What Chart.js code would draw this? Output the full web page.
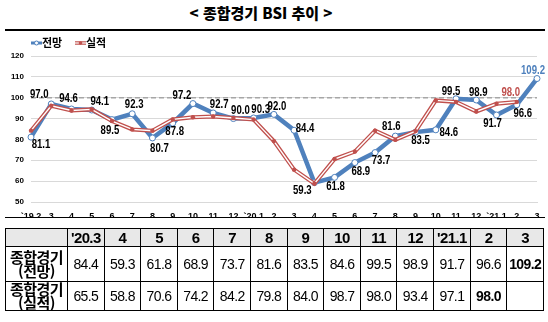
<!DOCTYPE html>
<html lang="ko">
<head>
<meta charset="utf-8">
<script src="https://cdn.jsdelivr.net/npm/chart.js@4.4.0/dist/chart.umd.min.js"></script>
<style>
    body { margin: 0; width: 548px; height: 322px; background: #fff; position: relative; overflow: hidden; font-family: 'Noto Sans CJK KR', sans-serif; }
    #title { position: absolute; top: 3px; left: 0; width: 522px; text-align: center; font-weight: 900; font-size: 15px; line-height: 20px; }
    .rule { position: absolute; left: 5px; width: 540px; height: 0; border-top: 2px solid #000; }
    #chartBox { position: absolute; left: 0; top: 32px; width: 548px; height: 186px; }
    #bsiTable { position: absolute; left: 5px; top: 228px; border-collapse: collapse; table-layout: fixed; width: 539px; }
    #bsiTable td { border: 1px solid #000; text-align: center; padding: 0; font-family: 'Liberation Sans', sans-serif; font-size: 14px; letter-spacing: -0.6px; }
    #bsiTable tr.head td { background: #e8e8e8; font-weight: bold; height: 16px; font-size: 15px; }
    #bsiTable td.rowHead { font-family: 'Noto Sans CJK KR', sans-serif; font-weight: bold; font-size: 15px; line-height: 14px; letter-spacing: -0.5px; }
    #bsiTable td.strong { font-weight: bold; }
</style>
</head>
<body>
<div id="title">&lt; 종합경기 BSI 추이 &gt;</div>
<div class="rule" style="top:29px"></div>
<div id="chartBox"><canvas id="bsiChart" width="548" height="186"></canvas></div>
<div class="rule" style="top:217px; border-top-width:1px"></div>
<table id="bsiTable"></table>
<script>
// Months on the x axis
const months = ['`19.2', '3', '4', '5', '6', '7', '8', '9', '10', '11', '12',
    '`20.1', '2', '3', '4', '5', '6', '7', '8', '9', '10', '11', '12',
    '`21.1', '2', '3'];

// 종합경기 전망
const forecast = [81.1, 97.0, 94.6, 94.1, 89.5, 92.3, 80.7, 87.8, 97.2, 92.7, 90.0,
    90.3, 92.0, 84.4, 59.3, 61.8, 68.9, 73.7, 81.6, 83.5, 84.6, 99.5, 98.9,
    91.7, 96.6, 109.2];

// 종합경기 실적 (no value yet for '21.3)
const actual = [84.2, 96.1, 93.9, 94.4, 88.8, 84.8, 84.2, 89.6, 90.6, 91.0, 90.3,
    89.5, 79.2, 65.5, 58.8, 70.6, 74.2, 84.2, 79.8, 84.0, 98.7, 98.0, 93.4,
    97.1, 98.0, null];

// Table columns ('20.3 ~ '21.3)
const tableCols = ["'20.3", '4', '5', '6', '7', '8', '9', '10', '11', '12', "'21.1", '2', '3'];
const yTicks = [50, 60, 70, 80, 90, 100, 110, 120];
const baseline = 100;

// where each forecast label sits relative to its point (px)
const forecastLabelOffsets = [
    [10, 8], [-12, -9], [-3, -10], [8, -8], [-2, 11], [2, -9], [7, 11], [2, 9],
    [-11, -8], [6, -8], [7, -8], [7, -8], [3, -8], [11, -2], [-12, 8], [1, 9],
    [6, 9], [6, 8], [-4, -9], [5, 9], [13, 3], [-5, -7], [2, -7], [-4, 9],
    [6, 9], [-4, -8]
];
const actualLabelOffset = [-6, -9];

const colors = {
    blue: '#4f81bd',
    red: '#c0504d',
    grid: '#d9d9d9',
    dash: '#a6a6a6'
};

// Dashed reference line at 100
const baselinePlugin = {
    id: 'baseline',
    beforeDatasetsDraw(chart) {
        const { ctx, chartArea, scales } = chart;
        const y = scales.y.getPixelForValue(baseline);
        ctx.save();
        ctx.strokeStyle = colors.dash;
        ctx.lineWidth = 1.5;
        ctx.setLineDash([5, 3]);
        ctx.beginPath();
        ctx.moveTo(chartArea.left, y);
        ctx.lineTo(chartArea.right, y);
        ctx.stroke();
        ctx.restore();
    }
};

// narrow text like the original's condensed digits
function narrowText(ctx, text, x, y) {
    ctx.save();
    ctx.translate(x, y);
    ctx.scale(0.8, 1);
    ctx.fillText(text, 0, 0);
    ctx.restore();
}

// Value labels
const labelPlugin = {
    id: 'valueLabels',
    afterDatasetsDraw(chart) {
        const ctx = chart.ctx;
        const fMeta = chart.getDatasetMeta(0);
        const aMeta = chart.getDatasetMeta(2);
        ctx.save();
        ctx.font = 'bold 12px "Liberation Sans"';
        ctx.textAlign = 'center';
        ctx.textBaseline = 'middle';
        forecast.forEach((v, i) => {
            const p = fMeta.data[i];
            const [dx, dy] = forecastLabelOffsets[i];
            ctx.fillStyle = i === forecast.length - 1 ? colors.blue : '#000';
            narrowText(ctx, v.toFixed(1), p.x + dx, p.y + dy);
        });
        // latest 실적 value in red
        let last = actual.length - 1;
        while (actual[last] === null) last--;
        const p = aMeta.data[last];
        ctx.fillStyle = colors.red;
        narrowText(ctx, actual[last].toFixed(1), p.x + actualLabelOffset[0], p.y + actualLabelOffset[1]);
        ctx.restore();
    }
};

// Legend drawn by hand (icons are line + marker)
const legendPlugin = {
    id: 'handLegend',
    afterDraw(chart) {
        const ctx = chart.ctx;
        const y = 11;
        ctx.save();
        // 전망
        ctx.strokeStyle = colors.blue;
        ctx.lineWidth = 3;
        ctx.beginPath(); ctx.moveTo(31, y); ctx.lineTo(42, y); ctx.stroke();
        ctx.fillStyle = '#fff';
        ctx.lineWidth = 1;
        ctx.beginPath(); ctx.arc(36.5, y, 2, 0, Math.PI * 2); ctx.fill(); ctx.stroke();
        // 실적
        ctx.strokeStyle = colors.red;
        ctx.lineWidth = 3.5;
        ctx.beginPath(); ctx.moveTo(75, y); ctx.lineTo(86, y); ctx.stroke();
        ctx.strokeStyle = '#fff';
        ctx.lineWidth = 1.2;
        ctx.beginPath(); ctx.moveTo(75, y); ctx.lineTo(86, y); ctx.stroke();
        ctx.fillStyle = colors.red;
        ctx.beginPath(); ctx.arc(80.5, y, 1.8, 0, Math.PI * 2); ctx.fill();

        ctx.font = 'bold 11px "Noto Sans CJK KR"';
        ctx.textBaseline = 'middle';
        ctx.fillStyle = '#000';
        ctx.fillText('전망', 42, y);
        ctx.fillText('실적', 86, y);
        ctx.restore();
    }
};

const bsiChart = new Chart(document.getElementById('bsiChart'), {
    type: 'line',
    data: {
        labels: months,
        datasets: [{
            label: '전망',
            data: forecast,
            borderColor: colors.blue,
            borderWidth: 4.5,
            pointRadius: 3,
            pointBackgroundColor: '#fff',
            pointBorderColor: colors.blue,
            pointBorderWidth: 1,
            tension: 0,
            order: 3
        }, {
            label: '실적',
            data: actual,
            borderColor: colors.red,
            borderWidth: 4,
            pointRadius: 0,
            tension: 0,
            order: 2
        }, {
            label: '실적 inner',
            data: actual,
            borderColor: '#fff',
            borderWidth: 1.4,
            pointRadius: 2.2,
            pointBackgroundColor: colors.red,
            pointBorderColor: colors.red,
            pointBorderWidth: 0,
            tension: 0,
            order: 1
        }]
    },
    options: {
        responsive: false,
        animation: false,
        layout: { padding: { top: 24, right: 11, left: 0, bottom: 0 } },
        plugins: {
            legend: { display: false },
            tooltip: { enabled: false }
        },
        scales: {
            x: {
                offset: false,
                grid: { display: false },
                border: { color: colors.grid },
                ticks: {
                    color: '#000',
                    font: { family: 'Liberation Sans', size: 9, weight: 'bold' },
                    maxRotation: 0,
                    autoSkip: false,
                    padding: 1
                },
                afterFit(scale) { scale.height = 16; }
            },
            y: {
                min: 50,
                max: 120,
                afterBuildTicks(scale) { scale.ticks = yTicks.map(v => ({ value: v })); },
                grid: { color: colors.grid, drawTicks: false },
                border: { display: false },
                ticks: {
                    color: '#000',
                    font: { family: 'Liberation Sans', size: 8, weight: 'bold' },
                    padding: 7
                },
                afterFit(scale) { scale.width = 31; }
            }
        }
    },
    plugins: [baselinePlugin, labelPlugin, legendPlugin]
});

// Table under the chart: last 13 months
function buildTable() {
    const table = document.getElementById('bsiTable');
    const start = months.length - tableCols.length;
    let html = '<colgroup><col style="width:62px">' + tableCols.map(() => '<col>').join('') + '</colgroup>';
    html += '<tr class="head"><td></td>' + tableCols.map(c => `<td>${c}</td>`).join('') + '</tr>';
    const rows = [
        { head: '종합경기<br>(전망)', values: forecast.slice(start), h: 35 },
        { head: '종합경기<br>(실적)', values: actual.slice(start), h: 28 }
    ];
    rows.forEach(r => {
        let last = r.values.length - 1;
        while (r.values[last] === null) last--;
        html += `<tr style="height:${r.h}px"><td class="rowHead">${r.head}</td>`;
        html += r.values.map((v, i) => {
            if (v === null) return '<td></td>';
            return `<td class="${i === last ? 'strong' : ''}">${v.toFixed(1)}</td>`;
        }).join('');
        html += '</tr>';
    });
    table.innerHTML = html;
}
buildTable();
</script>
</body>
</html>
